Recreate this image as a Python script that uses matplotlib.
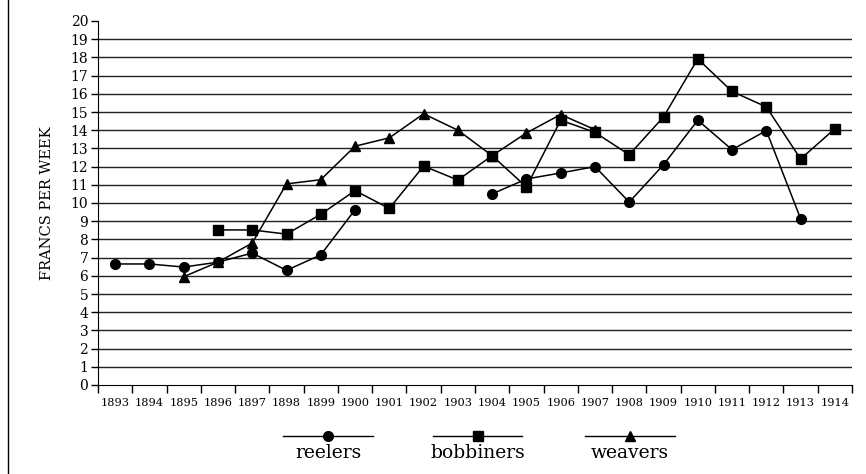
import matplotlib
matplotlib.use("Agg")
import matplotlib.pyplot as plt
from matplotlib.lines import Line2D
import numpy as np

nan = np.nan
years = list(range(1893, 1915))
reelers = [6.65, 6.65, 6.48, 6.75, 7.25, 6.3, 7.15, 9.63, nan, nan, nan,
           10.5, 11.32, 11.65, 12.0, 10.05, 12.1, 14.55, 12.93, 13.98, 9.14, nan]
bobbiners = [nan, nan, nan, 8.52, 8.52, 8.29, 9.38, 10.68, 9.7, 12.03, 11.26,
             12.6, 10.88, 14.55, 13.88, 12.65, 14.73, 17.92, 16.13, 15.28, 12.42, 14.08]
weavers = [nan, nan, 5.95, 6.75, 7.8, 11.05, 11.28, 13.12, 13.58, 14.9, 14.0,
           12.6, 13.85, 14.86, 14.03, nan, nan, nan, nan, nan, nan, nan]
series_names = ["reelers", "bobbiners", "weavers"]
series_markers = ["o", "s", "^"]

plt.rcParams['font.family'] = ['DejaVu Serif']

fig = plt.figure(figsize=(8.66, 4.74), dpi=100)
ax = fig.add_axes([98 / 866, 1 - 385 / 474, 754 / 866, 364 / 474])

x = np.arange(len(years))
for vals, m in zip([reelers, bobbiners, weavers], series_markers):
    ax.plot(x, vals, color="black", lw=1.1, marker=m, markersize=7.5 if m == "^" else 7)

for v in range(1, 20):
    ax.axhline(v, color="#222222", lw=1, zorder=0)

ax.set_xlim(-0.5, len(years) - 0.5)
ax.set_ylim(0, 20)
ax.set_yticks(range(0, 21))
ax.tick_params(axis="y", labelsize=10, length=5, width=1, pad=2)
ax.set_xticks(np.arange(-0.5, len(years)), labels=[])
ax.set_xticks(x, labels=[str(y) for y in years], minor=True)
ax.tick_params(axis="x", which="major", length=6, width=1)
ax.tick_params(axis="x", which="minor", length=0, labelsize=8.2, pad=9)
for s in ["top", "right"]:
    ax.spines[s].set_visible(False)
ax.set_ylabel("FRANCS PER WEEK", fontsize=10.5, labelpad=12)

# left frame line
fig.add_artist(Line2D([8 / 866, 8 / 866], [0, 1], color="black", lw=1))

# legend drawn below the plot
leg_x = [(283, 373), (433, 522), (585, 675)]
ly = 1 - 436 / 474
for (x0, x1), name, m in zip(leg_x, series_names, series_markers):
    fig.add_artist(Line2D([x0 / 866, x1 / 866], [ly, ly], color="black", lw=1))
    fig.add_artist(Line2D([(x0 + x1) / 2 / 866], [ly], color="black", marker=m,
                          markersize=7.5 if m == "^" else 7, lw=0))
    fig.text((x0 + x1) / 2 / 866, 1 - 453 / 474, name, ha="center", va="center", fontsize=13.5)

fig.savefig("out.png", dpi=100)
